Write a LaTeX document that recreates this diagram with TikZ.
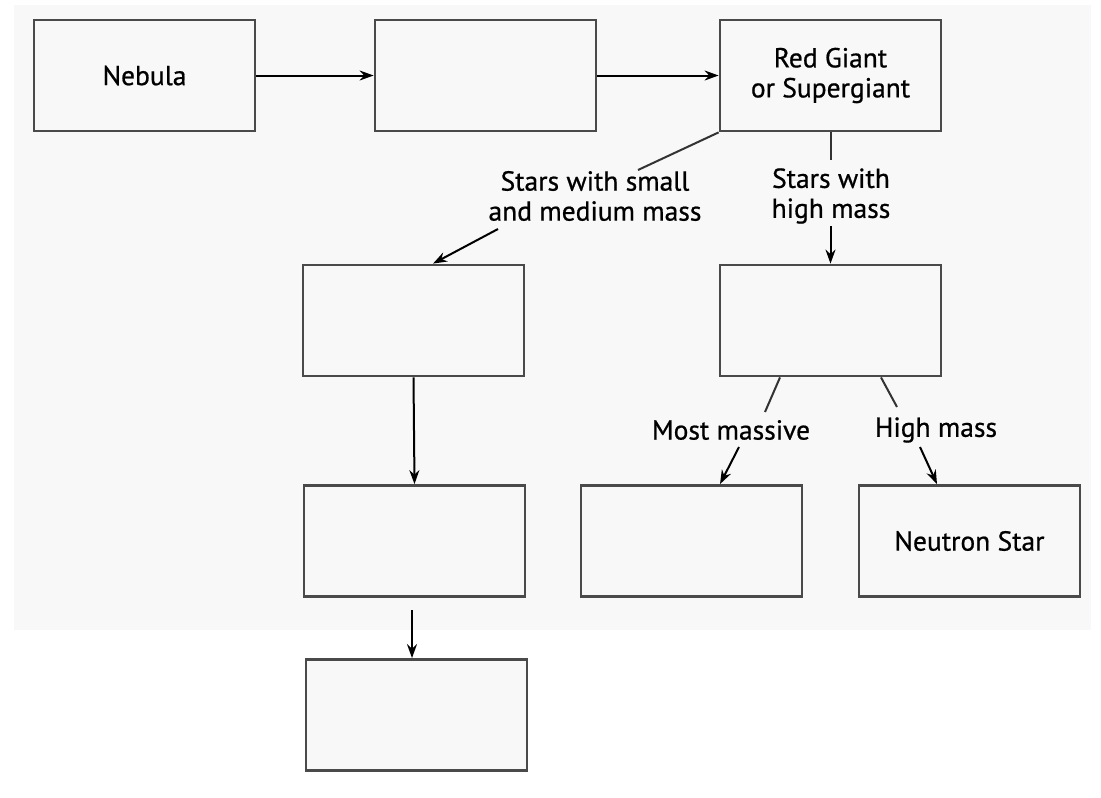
\documentclass[tikz,border=0pt]{standalone}
\usepackage{fontspec}
\setmainfont{PT Sans}[FakeBold=0.7]
\usetikzlibrary{arrows.meta}
\definecolor{bg}{HTML}{F8F8F8}
\definecolor{edge}{HTML}{4A4A4A}
\begin{document}
\begin{tikzpicture}[x=1pt,y=-1pt,
  box/.style={draw=edge,line width=2.8pt,fill=bg,minimum width=221pt,minimum height=111pt,inner sep=0pt,font=\fontsize{27.5}{30}\selectfont,align=center},
  lbl/.style={font=\fontsize{27.5}{30}\selectfont,align=center,inner sep=0pt},
  arr/.style={draw=black,line width=2pt,-{Stealth[length=14pt,width=10pt]}},
  ln/.style={draw=black!80,line width=2pt}]
\useasboundingbox (0,0) rectangle (1101,798);
\fill[white] (0,0) rectangle (1101,798);
\fill[bg] (14,5) rectangle (1091,630);
% boxes
\node[box] (neb) at (144.5,75.5) {Nebula};
\node[box] (b2) at (485.5,75.5) {};
\node[box] (rg) at (830.5,75.5) {Red Giant\\or Supergiant};
\node[box] (sm1) at (413.5,320.5) {};
\node[box] (hm) at (830.5,320.5) {};
\node[box] (sm2) at (414.5,541) {};
\node[box] (most) at (691.5,541) {};
\node[box] (neut) at (969.5,541) {Neutron Star};
\node[box] (sm3) at (416.5,715) {};
% labels
\node[lbl] (ls) at (595,196) {Stars with small\\and medium mass};
\node[lbl] (lh) at (831,196) {Stars with\\high mass};
\node[lbl] (lm) at (731,430) {Most massive};
\node[lbl] (lhm) at (936,430) {High mass};
% helper coordinates
\coordinate (a1) at (638,170);
\coordinate (a2) at (498,229);
\coordinate (h1) at (830.5,160);
\coordinate (h2) at (830.5,226);
\coordinate (m1) at (765,412);
\coordinate (m2) at (739,447);
\coordinate (n1) at (897,407);
\coordinate (n2) at (920,447);
\coordinate (s1) at (412,610);
% connectors
\draw[arr] (neb.east) -- (b2.west);
\draw[arr] (b2.east) -- (rg.west);
\draw[ln] (rg.south west) -- (a1);
\draw[arr] (a2) -- ([xshift=19.5pt]sm1.north);
\draw[ln] (rg.south) -- (h1);
\draw[arr] (h2) -- (hm.north);
\draw[arr] (sm1.south) -- (sm2.north);
\draw[arr] (s1) -- (s1 |- sm3.north);
\draw[ln] ([xshift=-50.5pt]hm.south) -- (m1);
\draw[arr] (m2) -- ([xshift=28.5pt]most.north);
\draw[ln] ([xshift=50.5pt]hm.south) -- (n1);
\draw[arr] (n2) -- ([xshift=-32.5pt]neut.north);
\end{tikzpicture}
\end{document}
